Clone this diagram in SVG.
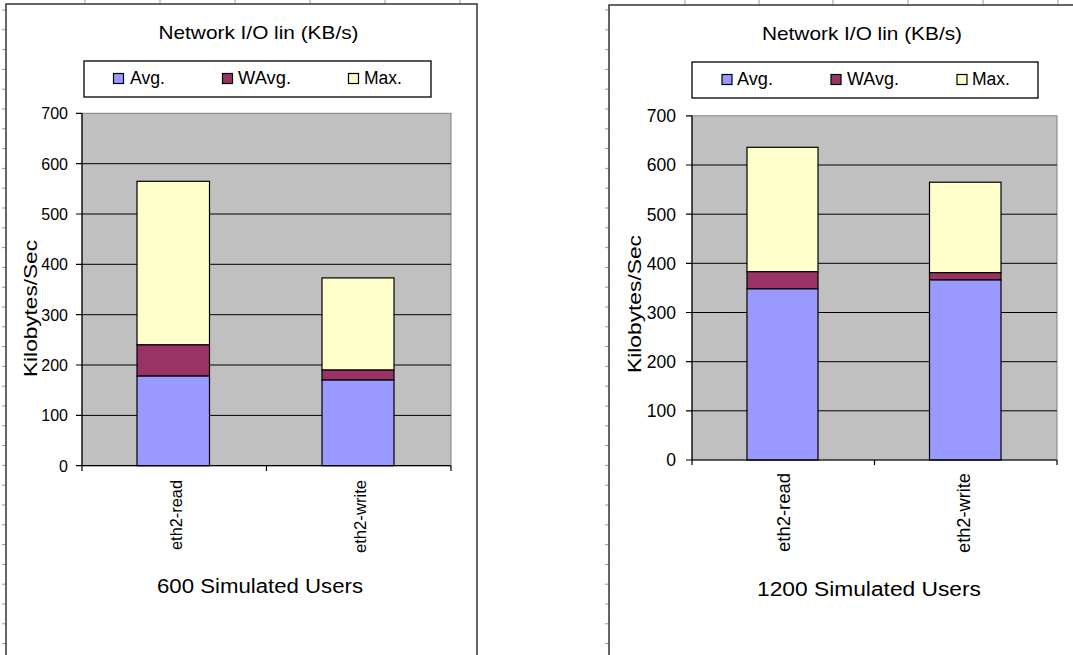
<svg xmlns="http://www.w3.org/2000/svg" width="1073" height="655" viewBox="0 0 1073 655">
<style>
text{font-family:"Liberation Sans",Arial,sans-serif;fill:#000}
.frame{fill:#fff;stroke:#333;stroke-width:1.5}
.plot{fill:#C0C0C0;stroke:#808080;stroke-width:1}
.grid{stroke:#000;stroke-width:1}
.axis{stroke:#000;stroke-width:1.2;fill:none}
.avg{fill:#9999FF;stroke:#000;stroke-width:1.2}
.wavg{fill:#993366;stroke:#000;stroke-width:1.2}
.max{fill:#FFFFCC;stroke:#000;stroke-width:1.2}
.leg{fill:#fff;stroke:#000;stroke-width:1.3}
.pm{stroke:#999;stroke-width:1}
.tl{font-size:16px;text-anchor:end}
.tr{font-size:17.5px;text-anchor:end}
</style>
<rect width="1073" height="655" fill="#fff"/>
<g id="page-marks">
<path class="pm" d="M2 10H6M2 29.8H6M2 49.6H6M2 69.4H6M2 89.2H6M2 109H6M2 128.8H6M2 148.6H6M2 168.4H6M2 188.2H6M2 208H6M2 227.8H6M2 247.6H6M2 267.4H6M2 287.2H6M2 307H6M2 326.8H6M2 346.6H6M2 366.4H6M2 386.2H6M2 406H6M2 425.8H6M2 445.6H6M2 465.4H6M2 485.2H6M2 505H6M2 524.8H6M2 544.6H6M2 564.4H6M2 584.2H6M2 604H6M2 623.8H6M2 643.6H6"/>
<path class="pm" d="M85 0V4M160 0V4M235 0V4M310 0V4M385 0V4M460 0V4"/>
<path class="pm" d="M605 10H609M605 29.8H609M605 49.6H609M605 69.4H609M605 89.2H609M605 109H609M605 128.8H609M605 148.6H609M605 168.4H609M605 188.2H609M605 208H609M605 227.8H609M605 247.6H609M605 267.4H609M605 287.2H609M605 307H609M605 326.8H609M605 346.6H609M605 366.4H609M605 386.2H609M605 406H609M605 425.8H609M605 445.6H609M605 465.4H609M605 485.2H609M605 505H609M605 524.8H609M605 544.6H609M605 564.4H609M605 584.2H609M605 604H609M605 623.8H609M605 643.6H609"/>
<path class="pm" d="M685 0V5M759 0V5M833 0V5M908 0V5M983 0V5M1058 0V5"/>
</g>

<g id="chart-600">
<rect class="frame" x="6" y="4" width="471" height="670"/>
<text x="258.5" y="39" font-size="19" text-anchor="middle" textLength="200" lengthAdjust="spacingAndGlyphs">Network I/O lin (KB/s)</text>
<g id="legend-600">
<rect class="leg" x="84" y="61" width="347" height="36"/>
<rect class="avg" x="113.5" y="73.5" width="10" height="10"/>
<text x="130" y="84" font-size="18" textLength="35" lengthAdjust="spacingAndGlyphs">Avg.</text>
<rect class="wavg" x="222.5" y="73.5" width="10" height="10"/>
<text x="238" y="84" font-size="18" textLength="53" lengthAdjust="spacingAndGlyphs">WAvg.</text>
<rect class="max" x="348.5" y="73.5" width="10" height="10"/>
<text x="364" y="84" font-size="18" textLength="38" lengthAdjust="spacingAndGlyphs">Max.</text>
</g>
<rect class="plot" x="82" y="113.3" width="369" height="352.4"/>
<path class="grid" d="M82 415.4H451M82 365H451M82 314.7H451M82 264.3H451M82 214H451M82 163.7H451"/>
<g id="bar-600-read">
<rect class="max" x="137" y="181.3" width="72.5" height="163.6"/>
<rect class="wavg" x="137" y="344.9" width="72.5" height="31.2"/>
<rect class="avg" x="137" y="376.1" width="72.5" height="89.6"/>
</g>
<g id="bar-600-write">
<rect class="max" x="322" y="277.9" width="72" height="92.2"/>
<rect class="wavg" x="322" y="370.1" width="72" height="10"/>
<rect class="avg" x="322" y="380.1" width="72" height="85.6"/>
</g>
<path class="axis" d="M82 113.3V465.7H451M76 465.7H82M76 415.4H82M76 365H82M76 314.7H82M76 264.3H82M76 214H82M76 163.7H82M76 113.3H82M82 465.7V471M266.5 465.7V471M451 465.7V471"/>
<text class="tl" x="68" y="471.5">0</text>
<text class="tl" x="68" y="421.2">100</text>
<text class="tl" x="68" y="370.8">200</text>
<text class="tl" x="68" y="320.5">300</text>
<text class="tl" x="68" y="270.1">400</text>
<text class="tl" x="68" y="219.8">500</text>
<text class="tl" x="68" y="169.5">600</text>
<text class="tl" x="68" y="119.1">700</text>
<text transform="translate(37,308.5) rotate(-90)" font-size="19" text-anchor="middle" textLength="137" lengthAdjust="spacingAndGlyphs">Kilobytes/Sec</text>
<text transform="translate(182,480) rotate(-90)" font-size="17" text-anchor="end" textLength="70" lengthAdjust="spacingAndGlyphs">eth2-read</text>
<text transform="translate(366,480) rotate(-90)" font-size="17" text-anchor="end" textLength="73" lengthAdjust="spacingAndGlyphs">eth2-write</text>
<text x="260" y="593" font-size="19.5" text-anchor="middle" textLength="206" lengthAdjust="spacingAndGlyphs">600 Simulated Users</text>
</g>

<g id="chart-1200">
<rect class="frame" x="609" y="5" width="480" height="670"/>
<text x="862" y="40" font-size="19" text-anchor="middle" textLength="200" lengthAdjust="spacingAndGlyphs">Network I/O lin (KB/s)</text>
<g id="legend-1200">
<rect class="leg" x="692" y="62" width="346" height="36"/>
<rect class="avg" x="722" y="74.5" width="10" height="10"/>
<text x="737" y="85" font-size="18" textLength="36" lengthAdjust="spacingAndGlyphs">Avg.</text>
<rect class="wavg" x="831" y="74.5" width="10" height="10"/>
<text x="847" y="85" font-size="18" textLength="52" lengthAdjust="spacingAndGlyphs">WAvg.</text>
<rect class="max" x="957" y="74.5" width="10" height="10"/>
<text x="972" y="85" font-size="18" textLength="38" lengthAdjust="spacingAndGlyphs">Max.</text>
</g>
<rect class="plot" x="692" y="115.8" width="365" height="344.2"/>
<path class="grid" d="M692 410.8H1057M692 361.7H1057M692 312.5H1057M692 263.3H1057M692 214.2H1057M692 165H1057"/>
<g id="bar-1200-read">
<rect class="max" x="747" y="147.3" width="71" height="124.4"/>
<rect class="wavg" x="747" y="271.7" width="71" height="17.2"/>
<rect class="avg" x="747" y="288.9" width="71" height="171.1"/>
</g>
<g id="bar-1200-write">
<rect class="max" x="929.5" y="182.2" width="71.5" height="90.5"/>
<rect class="wavg" x="929.5" y="272.7" width="71.5" height="7.3"/>
<rect class="avg" x="929.5" y="280" width="71.5" height="180"/>
</g>
<path class="axis" d="M692 115.8V460H1057M686 460H692M686 410.8H692M686 361.7H692M686 312.5H692M686 263.3H692M686 214.2H692M686 165H692M686 115.8H692M692 460V465M874.5 460V465M1057 460V465"/>
<text class="tr" x="676" y="466.3">0</text>
<text class="tr" x="676" y="417.1">100</text>
<text class="tr" x="676" y="368">200</text>
<text class="tr" x="676" y="318.8">300</text>
<text class="tr" x="676" y="269.6">400</text>
<text class="tr" x="676" y="220.5">500</text>
<text class="tr" x="676" y="171.3">600</text>
<text class="tr" x="676" y="122.1">700</text>
<text transform="translate(641,304) rotate(-90)" font-size="19" text-anchor="middle" textLength="138" lengthAdjust="spacingAndGlyphs">Kilobytes/Sec</text>
<text transform="translate(790,473) rotate(-90)" font-size="18" text-anchor="end" textLength="79" lengthAdjust="spacingAndGlyphs">eth2-read</text>
<text transform="translate(970,473) rotate(-90)" font-size="18" text-anchor="end" textLength="80" lengthAdjust="spacingAndGlyphs">eth2-write</text>
<text x="869" y="596" font-size="20" text-anchor="middle" textLength="224" lengthAdjust="spacingAndGlyphs">1200 Simulated Users</text>
</g>
</svg>
